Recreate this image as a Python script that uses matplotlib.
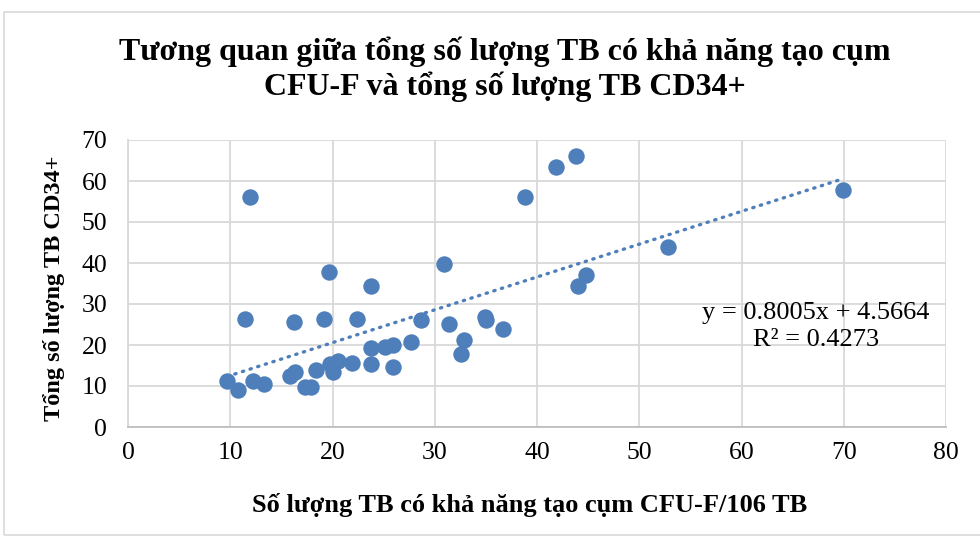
import matplotlib
matplotlib.use("Agg")
import matplotlib.pyplot as plt
from matplotlib.patches import Rectangle

# values
cfu_f = [9.7, 10.8, 12.2, 13.3, 11.4, 11.9, 15.8, 16.35, 16.2, 17.3, 17.9,
         18.35, 19.75, 20.0, 20.55, 21.9, 19.2, 19.7, 22.4, 23.8, 23.8,
         23.8, 25.1, 25.9, 25.96, 27.7, 28.7, 30.9, 31.4, 32.9, 32.6,
         34.9, 35.0, 36.7, 38.8, 41.9, 43.85, 44.0, 44.8, 52.8, 69.9]
cd34 = [11.1, 9.0, 11.2, 10.4, 26.3, 56.1, 12.4, 13.3, 25.5, 9.8, 9.8,
        14.0, 15.3, 13.3, 16.2, 15.7, 26.4, 37.7, 26.3, 34.5, 19.3,
        15.4, 19.5, 20.0, 14.6, 20.7, 26.0, 39.7, 25.2, 21.1, 17.9,
        26.8, 26.0, 23.8, 56.2, 63.5, 66.0, 34.3, 37.1, 43.8, 57.7]

slope = 0.8005
intercept = 4.5664
r2 = 0.4273

title = "Tương quan giữa tổng số lượng TB có khả năng tạo cụm\nCFU-F và tổng số lượng TB CD34+"
xlabel = "Số lượng TB có khả năng tạo cụm CFU-F/106 TB"
ylabel = "Tổng số lượng TB CD34+"

blue = "#4F7FBA"
grid_c = "#D9D9D9"

plt.rcParams["font.family"] = ["Liberation Serif", "DejaVu Serif"]

fig = plt.figure(figsize=(9.8, 5.38), dpi=100)
fig.patches.append(Rectangle((4 / 980, 3 / 538), 1.2, 523 / 538,
                             transform=fig.transFigure, fill=False,
                             edgecolor="#D9D9D9", linewidth=1.2))

ax = fig.add_axes([128 / 980, 1 - 427 / 538, 818 / 980, 287 / 538])

ax.scatter(cfu_f, cd34, s=140, color=blue, zorder=3, linewidths=0)

# linear trendline over the data range
x0, x1 = min(cfu_f), max(cfu_f)
ax.plot([x0, x1], [slope * x0 + intercept, slope * x1 + intercept],
        color=blue, linewidth=2.4, linestyle=(0, (0.4, 2.0)),
        dash_capstyle="round", zorder=2)

ax.set_xlim(0, 80)
ax.set_ylim(0, 70)
ax.set_xticks(range(0, 81, 10))
ax.set_yticks(range(0, 71, 10))
ax.grid(True, color=grid_c, linewidth=1.3)
ax.set_axisbelow(True)
for s in ["top", "right"]:
    ax.spines[s].set_visible(False)
ax.spines["left"].set_color(grid_c)
ax.spines["left"].set_linewidth(1.3)
ax.spines["bottom"].set_color("#BFBFBF")
ax.spines["bottom"].set_linewidth(1.3)
ax.tick_params(axis="both", length=0, labelsize=18.5)
ax.tick_params(axis="y", pad=15)
ax.tick_params(axis="x", pad=11)

ax.text(67.3, 24.6, f"y = {slope}x + {intercept}\nR² = {r2}",
        ha="center", va="center", multialignment="center",
        fontsize=19, linespacing=1.28)

fig.text(0.515, 1 - 69 / 538, title, ha="center", va="center",
         fontsize=23, fontweight="bold", linespacing=1.2)
fig.text(530 / 980, 1 - 505 / 538, xlabel, ha="center", va="center",
         fontsize=19, fontweight="bold")
fig.text(54 / 980, 1 - 288 / 538, ylabel, ha="center", va="center",
         rotation=90, fontsize=17.5, fontweight="bold")

fig.savefig("out.png", dpi=100)
